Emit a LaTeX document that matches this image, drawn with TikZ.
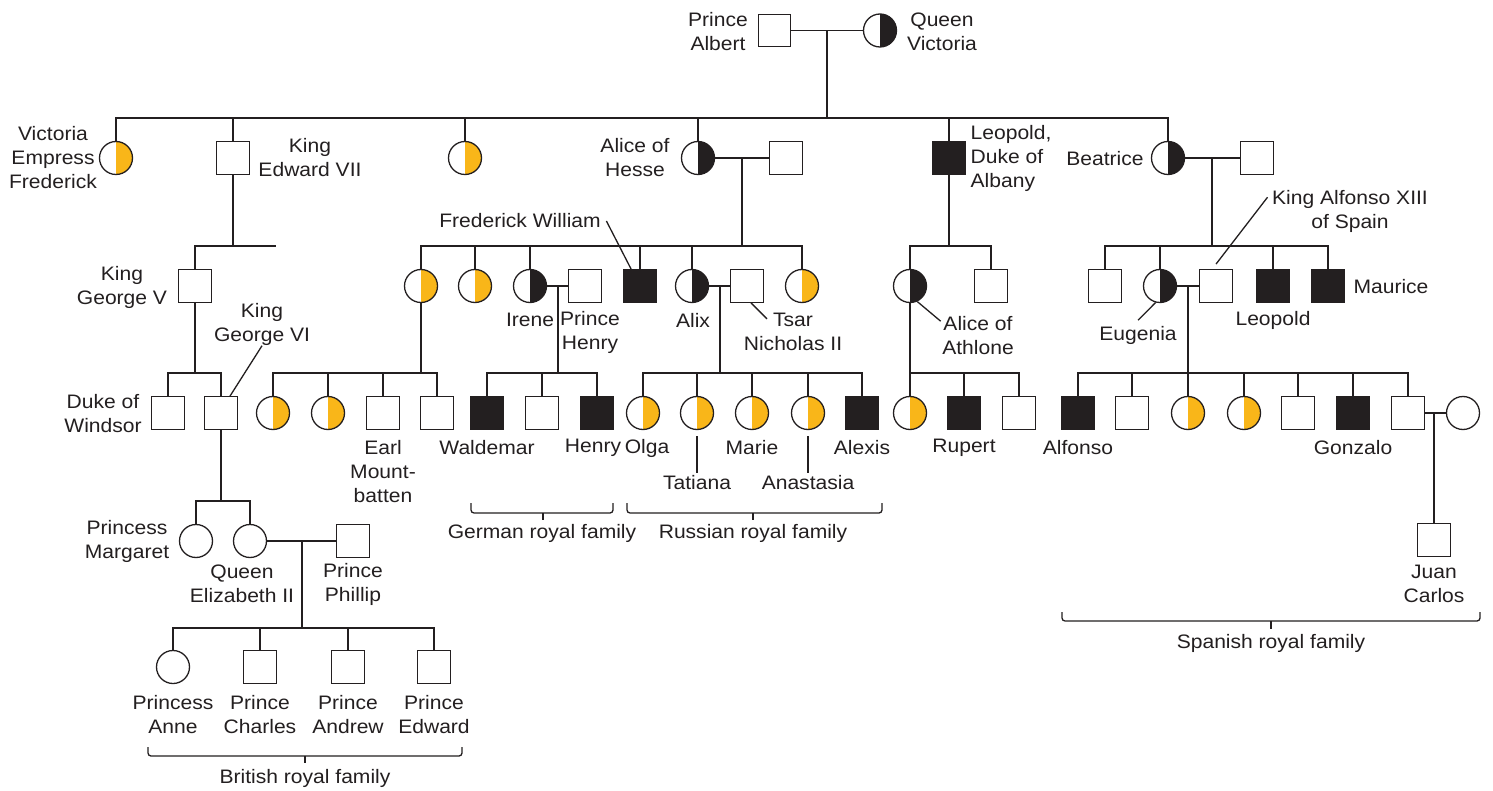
\documentclass[tikz,border=0pt]{standalone}
\usepackage{fontspec}
\setmainfont{Liberation Sans}[FakeStretch=1.08]
\usetikzlibrary{calc}
\definecolor{Ink}{HTML}{231F20}
\definecolor{Gold}{HTML}{F9B619}

\begin{document}
\begin{tikzpicture}[x=1pt,y=-1pt,line width=1.3pt,color=Ink,
    every node/.style={font=\fontsize{19.5}{24}\selectfont},
    male/.style={draw=Ink,rectangle,minimum size=32.5pt,inner sep=0pt,fill=white},
    female/.style={draw=Ink,circle,minimum size=33pt,inner sep=0pt,fill=white},
    sick/.style={male,fill=Ink},
    halfblack/.style={female,path picture={\fill[Ink] (path picture bounding box.south) rectangle (path picture bounding box.north east);}},
    halfgold/.style={female,path picture={\fill[Gold] (path picture bounding box.south) rectangle (path picture bounding box.north east);}},
    lbl/.style={align=center,inner sep=0pt},
    brace/.style={rounded corners=3pt}]
    \useasboundingbox[fill=white] (0,0) rectangle (1493,791);

    \node[male] (albert) at (774.5,30.5) {};
    \node[halfblack] (victoria) at (880,30.5) {};
    \coordinate (m0) at (827,30.5);
    \coordinate (s0) at (827,118);

    \node[halfgold] (vicemp) at (116,158) {};
    \node[male] (edward) at (233,158) {};
    \node[halfgold] (helena) at (465,158) {};
    \node[halfblack] (alice) at (698,158) {};
    \node[male] (ludwig) at (786,158) {};
    \node[sick] (leopold) at (949,158) {};
    \node[halfblack] (beatrice) at (1168,158) {};
    \node[male] (henryb) at (1257,158) {};
    \draw (albert) -- (victoria) (m0) -- (s0);
    \draw (vicemp) |- (s0) -| (beatrice);
    \draw (edward) -- (edward |- s0) (helena) -- (helena |- s0) (alice) -- (alice |- s0) (leopold) -- (leopold |- s0);

    \node[male] (georgev) at (195,286) {};
    \coordinate (s1) at (233,246);
    \coordinate (edstub) at (276,246);
    \draw (edward) -- (s1);
    \draw (georgev) |- (edstub);

    \node[halfgold] (hd1) at (421,286) {};
    \node[halfgold] (hd2) at (475,286) {};
    \node[halfblack] (irene) at (530,286) {};
    \node[male] (phenry) at (585,286) {};
    \node[sick] (fwill) at (640,286) {};
    \node[halfblack] (alix) at (692,286) {};
    \node[male] (nicholas) at (747,286) {};
    \node[halfgold] (hd3) at (802,286) {};
    \coordinate (m1) at (742,158);
    \coordinate (s2) at (742,246);
    \draw (alice) -- (ludwig) (m1) -- (s2);
    \draw (hd1) |- (s2) -| (hd3);
    \draw (hd2) -- (hd2 |- s2) (irene) -- (irene |- s2) (fwill) -- (fwill |- s2) (alix) -- (alix |- s2);

    \node[halfblack] (athlone) at (910,286) {};
    \node[male] (charlese) at (991,286) {};
    \coordinate (s3) at (949,246);
    \draw (leopold) -- (s3);
    \draw (athlone) |- (s3) -| (charlese);

    \node[male] (bs1) at (1105,286) {};
    \node[halfblack] (eugenia) at (1160,286) {};
    \node[male] (alfonso13) at (1216,286) {};
    \node[sick] (bleo) at (1273,286) {};
    \node[sick] (maurice) at (1328,286) {};
    \coordinate (m2) at (1212,158);
    \coordinate (s4) at (1212,246);
    \draw (beatrice) -- (henryb) (m2) -- (s4);
    \draw (bs1) |- (s4) -| (maurice);
    \draw (eugenia) -- (eugenia |- s4) (bleo) -- (bleo |- s4);

    \node[male] (windsor) at (168,413) {};
    \node[male] (george6) at (221,413) {};
    \coordinate (s5) at (195,373);
    \draw (georgev) -- (s5);
    \draw (windsor) |- (s5) -| (george6);

    \node[halfgold] (g1) at (273,413) {};
    \node[halfgold] (g2) at (328,413) {};
    \node[male] (mountbatten) at (383,413) {};
    \node[male] (g4) at (437,413) {};
    \coordinate (s6) at (421,373);
    \draw (hd1) -- (s6);
    \draw (g1) |- (s6) -| (g4);
    \draw (g2) -- (g2 |- s6) (mountbatten) -- (mountbatten |- s6);

    \node[sick] (waldemar) at (487,413) {};
    \node[male] (ih2) at (542,413) {};
    \node[sick] (henry) at (597,413) {};
    \coordinate (m3) at (558,286);
    \coordinate (s7) at (558,373);
    \draw (irene) -- (phenry) (m3) -- (s7);
    \draw (waldemar) |- (s7) -| (henry);
    \draw (ih2) -- (ih2 |- s7);

    \node[halfgold] (olga) at (643,413) {};
    \node[halfgold] (tatiana) at (697,413) {};
    \node[halfgold] (marie) at (752,413) {};
    \node[halfgold] (anastasia) at (808,413) {};
    \node[sick] (alexis) at (862,413) {};
    \coordinate (m4) at (720,286);
    \coordinate (s8) at (720,373);
    \draw (alix) -- (nicholas) (m4) -- (s8);
    \draw (olga) |- (s8) -| (alexis);
    \draw (tatiana) -- (tatiana |- s8) (marie) -- (marie |- s8) (anastasia) -- (anastasia |- s8);

    \node[halfgold] (at1) at (910,413) {};
    \node[sick] (rupert) at (964,413) {};
    \node[male] (at3) at (1019,413) {};
    \coordinate (s9) at (910,373);
    \draw (athlone) -- (at1);
    \draw (s9) -| (at3);
    \draw (rupert) -- (rupert |- s9);

    \node[sick] (alfonso) at (1078,413) {};
    \node[male] (sp2) at (1132,413) {};
    \node[halfgold] (sp3) at (1188,413) {};
    \node[halfgold] (sp4) at (1244,413) {};
    \node[male] (sp5) at (1298,413) {};
    \node[sick] (gonzalo) at (1353,413) {};
    \node[male] (juan) at (1408,413) {};
    \node[female] (mercedes) at (1463,413) {};
    \coordinate (m5) at (1188,286);
    \coordinate (s10) at (1188,373);
    \draw (eugenia) -- (alfonso13) (m5) -- (sp3);
    \draw (alfonso) |- (s10) -| (juan);
    \draw (sp2) -- (sp2 |- s10) (sp4) -- (sp4 |- s10) (sp5) -- (sp5 |- s10) (gonzalo) -- (gonzalo |- s10);

    \node[male] (juancarlos) at (1434,540) {};
    \coordinate (m6) at (1434,413);
    \draw (juan) -- (mercedes) (m6) -- (juancarlos);

    \node[female] (margaret) at (196,541) {};
    \node[female] (elizabeth) at (250,541) {};
    \node[male] (phillip) at (353,541) {};
    \coordinate (s11) at (221,501);
    \draw (george6) -- (s11);
    \draw (margaret) |- (s11) -| (elizabeth);

    \node[female] (anne) at (173,667) {};
    \node[male] (charles) at (260,667) {};
    \node[male] (andrew) at (348,667) {};
    \node[male] (edwardp) at (434,667) {};
    \coordinate (m7) at (302,541);
    \coordinate (s12) at (302,628);
    \draw (elizabeth) -- (phillip) (m7) -- (s12);
    \draw (anne) |- (s12) -| (edwardp);
    \draw (charles) -- (charles |- s12) (andrew) -- (andrew |- s12);

    \node[lbl] (albertlab) at (718,32) {Prince\\Albert};
    \node[lbl] (victorialab) at (942,32) {Queen\\Victoria};
    \node[lbl] (vicemplab) at (53,158) {Victoria\\Empress\\Frederick};
    \node[lbl] (edwardlab) at (310,158) {King\\Edward VII};
    \node[lbl] (alicelab) at (635,158) {Alice of\\Hesse};
    \node[lbl,align=left,anchor=west] (leopoldlab) at (970,158) {Leopold,\\Duke of\\Albany};
    \node[lbl] (beatricelab) at (1105,159) {Beatrice};
    \node[lbl] (georgevlab) at (122,287) {King\\George V};
    \node[lbl] (fwilllab) at (520,221) {Frederick William};
    \node[lbl] (irenelab) at (530,320) {Irene};
    \node[lbl] (phenrylab) at (590,332) {Prince\\Henry};
    \node[lbl] (alixlab) at (693,320) {Alix};
    \node[lbl] (nicholaslab) at (793,332) {Tsar\\Nicholas II};
    \node[lbl] (athlonelab) at (978,336) {Alice of\\Athlone};
    \node[lbl] (eugenialab) at (1138,335) {Eugenia};
    \node[lbl] (alfonso13lab) at (1350,211) {King Alfonso XIII\\of Spain};
    \node[lbl] (bleolab) at (1273,320) {Leopold};
    \node[lbl] (mauricelab) at (1391,287) {Maurice};
    \node[lbl] (george6lab) at (262,324) {King\\George VI};
    \node[lbl] (windsorlab) at (103,414) {Duke of\\Windsor};
    \node[lbl] (mountbattenlab) at (383,472) {Earl\\Mount-\\batten};
    \node[lbl] (waldemarlab) at (487,448) {Waldemar};
    \node[lbl] (henrylab) at (593,448) {Henry};
    \node[lbl] (olgalab) at (647,448) {Olga};
    \node[lbl] (tatianalab) at (697,483) {Tatiana};
    \node[lbl] (marielab) at (752,448) {Marie};
    \node[lbl] (anastasialab) at (808,483) {Anastasia};
    \node[lbl] (alexislab) at (862,448) {Alexis};
    \node[lbl] (rupertlab) at (964,448) {Rupert};
    \node[lbl] (alfonsolab) at (1078,448) {Alfonso};
    \node[lbl] (gonzalolab) at (1353,448) {Gonzalo};
    \node[lbl] (juancarloslab) at (1434,584) {Juan\\Carlos};
    \node[lbl] (margaretlab) at (127,541) {Princess\\Margaret};
    \node[lbl] (elizabethlab) at (242,584) {Queen\\Elizabeth II};
    \node[lbl] (philliplab) at (353,584) {Prince\\Phillip};
    \node[lbl] (annelab) at (173,715) {Princess\\Anne};
    \node[lbl] (charleslab) at (260,715) {Prince\\Charles};
    \node[lbl] (andrewlab) at (348,715) {Prince\\Andrew};
    \node[lbl] (edwardplab) at (434,715) {Prince\\Edward};

    \draw ([xshift=5pt]fwilllab.east) -- ([xshift=8pt]fwill.north west);
    \draw ([xshift=4pt]nicholas.south) -- ++(16,16);
    \draw ([xshift=9pt]george6.north) -- (george6lab.south);
    \draw ([yshift=-6pt]tatiana.south) -- ([yshift=2pt]tatianalab.north);
    \draw ([yshift=-6pt]anastasia.south) -- ([yshift=2pt]anastasialab.north);
    \draw (athlone.-65) -- ([xshift=-1pt,yshift=-5pt]athlonelab.north west);
    \draw (eugenia.-105) -- ([yshift=5pt]eugenialab.north);
    \draw ([yshift=5pt]alfonso13.north) -- ([xshift=-4pt,yshift=-8pt]alfonso13lab.north west);

    \draw[brace] (148,747) |- (462,756) -- (462,747);
    \draw (305,756) -- (305,763);
    \node[lbl] (britishlab) at (305,778) {British royal family};
    \draw[brace] (471,503) |- (613,513) -- (613,503);
    \draw (543,513) -- (543,520);
    \node[lbl] (germanlab) at (542,533) {German royal family};
    \draw[brace] (627,503) |- (882,513) -- (882,503);
    \draw (753,513) -- (753,520);
    \node[lbl] (russianlab) at (753,533) {Russian royal family};
    \draw[brace] (1062,612) |- (1480,621) -- (1480,612);
    \draw (1271,621) -- (1271,629);
    \node[lbl] (spanishlab) at (1271,643) {Spanish royal family};
\end{tikzpicture}
\end{document}
